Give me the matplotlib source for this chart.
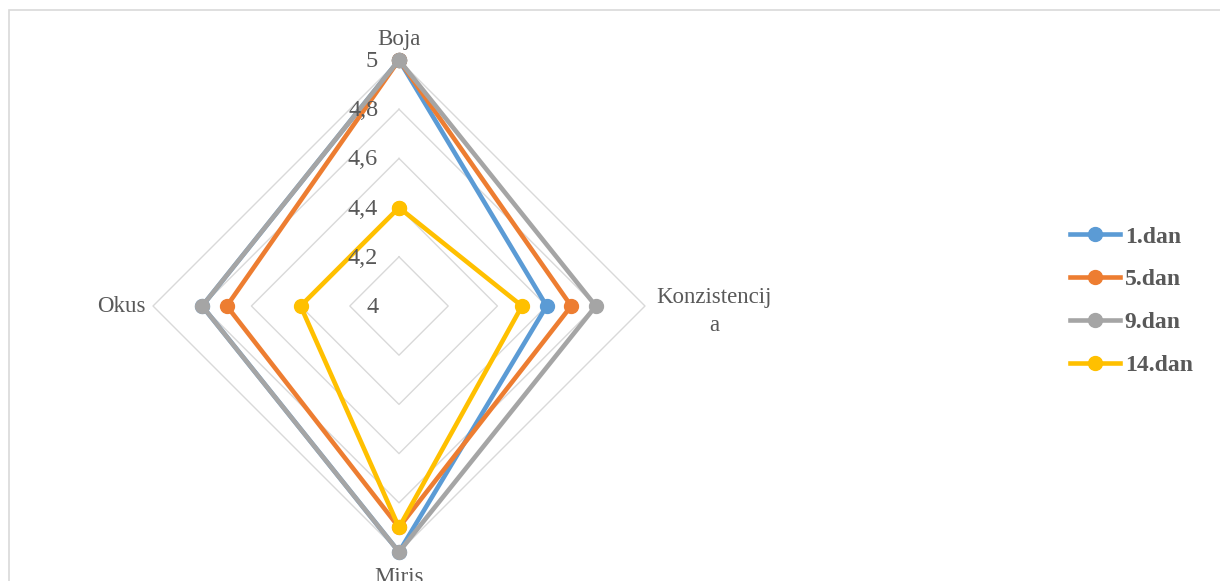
import numpy as np
import matplotlib
matplotlib.use("Agg")
import matplotlib.pyplot as plt
from matplotlib.patches import Rectangle

categories = ["Boja", "Konzistencij\na", "Miris", "Okus"]
series_names = ["1.dan", "5.dan", "9.dan", "14.dan"]
dan1 = [5.0, 4.6, 5.0, 4.8]
dan5 = [5.0, 4.7, 4.9, 4.7]
dan9 = [5.0, 4.8, 5.0, 4.8]
dan14 = [4.4, 4.5, 4.9, 4.4]
series = [dan1, dan5, dan9, dan14]
colors = ["#5b9bd5", "#ed7d31", "#a5a5a5", "#ffc000"]
rticks = [4.0, 4.2, 4.4, 4.6, 4.8, 5.0]
rtick_labels = ["4", "4,2", "4,4", "4,6", "4,8", "5"]

plt.rcParams['font.family'] = ['Liberation Serif', 'DejaVu Serif']

fig = plt.figure(figsize=(12.2, 5.81), dpi=100)
# light frame around the chart area
fig.patches.append(Rectangle((9 / 1220, -0.01), 1.0, (581 - 10) / 581 + 0.01,
                             transform=fig.transFigure, fill=False,
                             edgecolor="#d9d9d9", linewidth=1.2))

ax = fig.add_axes([0.1254, 0.0499, 0.4033, 0.8468], projection="polar")
ax.set_theta_offset(np.pi / 2)
ax.set_theta_direction(-1)
ax.set_ylim(4, 5)

n = len(categories)
angles = np.linspace(0, 2 * np.pi, n, endpoint=False)
closed = np.concatenate([angles, angles[:1]])

# diamond grid
for r in rticks[1:]:
    ax.plot(closed, [r] * (n + 1), color="#d9d9d9", lw=1.0, zorder=1,
            clip_on=False)

ax.grid(False)
ax.spines["polar"].set_visible(False)
ax.set_xticks([])
ax.set_yticks([])

for vals, name, c in zip(series, series_names, colors):
    v = list(vals) + [vals[0]]
    ax.plot(closed, v, color=c, lw=3.3, marker="o", markersize=10,
            label=name, zorder=3, solid_joinstyle="round", clip_on=False)

# radial tick labels
for r, lab in zip(rticks, rtick_labels):
    ax.annotate(lab, xy=(0, r), xytext=(-15, -1), textcoords="offset points",
                ha="right", va="center", fontsize=17.5, color="#595959")

# category labels
cat_off = [(0, 15), (50, -4), (0, -18), (-23, 0)]
for a, lab, (dx, dy) in zip(angles, categories, cat_off):
    ax.annotate(lab, xy=(a, 5), xytext=(dx, dy), textcoords="offset points",
                ha="center", va="center", fontsize=16.5, color="#595959",
                linespacing=1.4, annotation_clip=False)

fig.legend(loc="center left", bbox_to_anchor=(0.860, 0.482), frameon=False,
           prop={"weight": "bold", "size": 17}, labelcolor="#595959",
           handlelength=2.1, handletextpad=0.2, labelspacing=0.9)

fig.savefig("out.png", dpi=100)
